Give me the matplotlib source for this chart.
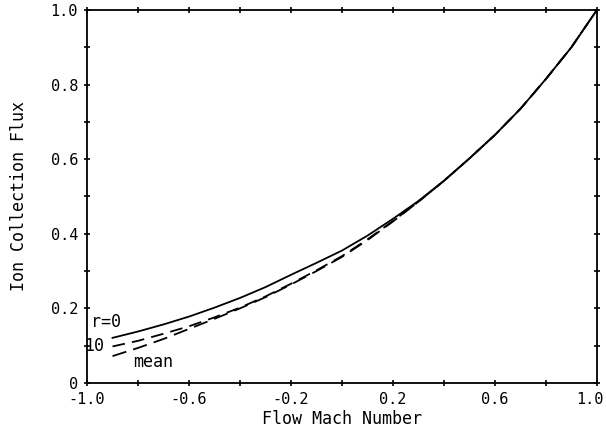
import matplotlib
matplotlib.use("Agg")
import matplotlib.pyplot as plt
from matplotlib.ticker import FixedLocator
from matplotlib.transforms import ScaledTranslation

mach = [-0.9, -0.8, -0.7, -0.6, -0.5, -0.4, -0.3, -0.2, -0.1, 0.0,
        0.1, 0.2, 0.3, 0.4, 0.5, 0.6, 0.7, 0.8, 0.9, 1.0]
flux_r0 = [0.121, 0.138, 0.157, 0.178, 0.202, 0.228, 0.257, 0.290, 0.322, 0.355,
           0.395, 0.440, 0.488, 0.542, 0.602, 0.665, 0.735, 0.815, 0.900, 1.000]
flux_r10 = [0.098, 0.113, 0.132, 0.152, 0.176, 0.202, 0.232, 0.266, 0.302, 0.340,
            0.385, 0.434, 0.486, 0.542, 0.602, 0.665, 0.735, 0.815, 0.900, 1.000]
flux_mean = [0.072, 0.094, 0.118, 0.145, 0.172, 0.200, 0.230, 0.264, 0.300, 0.338,
             0.383, 0.433, 0.486, 0.542, 0.602, 0.665, 0.735, 0.815, 0.900, 1.000]

xticks = [-1.0, -0.8, -0.6, -0.4, -0.2, 0.0, 0.2, 0.4, 0.6, 0.8, 1.0]
xticklabels = ["-1.0", "", "-0.6", "", "-0.2", "", "0.2", "", "0.6", "", "1.0"]
yticks = [0.0, 0.1, 0.2, 0.3, 0.4, 0.5, 0.6, 0.7, 0.8, 0.9, 1.0]
yticklabels = ["0", "", "0.2", "", "0.4", "", "0.6", "", "0.8", "", "1.0"]

plt.rcParams['font.family'] = ['DejaVu Sans Mono']

fig = plt.figure(figsize=(6.06, 4.33), dpi=100)
ax = fig.add_axes([0.1436, 0.1155, 0.8414, 0.8615])

ax.plot(mach, flux_r0, color='black', lw=1.3)
ax.plot(mach, flux_r10, color='black', lw=1.3, dashes=(7, 4))
ax.plot(mach, flux_mean, color='black', lw=1.3, dashes=(8, 4))

ax.set_xlim(-1.0, 1.0)
ax.set_ylim(0.0, 1.0)
ax.xaxis.set_major_locator(FixedLocator(xticks))
ax.set_xticklabels(xticklabels)
ax.yaxis.set_major_locator(FixedLocator(yticks))
ax.set_yticklabels(yticklabels)

ax.tick_params(direction='inout', length=5, width=1.2, top=True, right=True,
               labelsize=11, pad=4)
for s in ax.spines.values():
    s.set_linewidth(1.3)

# shift the last x tick label slightly left so it stays inside the figure
last = ax.get_xticklabels()[-1]
last.set_transform(last.get_transform() + ScaledTranslation(-7 / 100, 0, fig.dpi_scale_trans))

ax.set_xlabel("Flow Mach Number", fontsize=12, labelpad=2)
ax.set_ylabel("Ion Collection Flux", fontsize=12, labelpad=16)

ax.text(-0.985, 0.164, "r=0", fontsize=12, va='center', ha='left')
ax.text(-1.01, 0.100, "10", fontsize=12, va='center', ha='left')
ax.text(-0.82, 0.057, "mean", fontsize=12, va='center', ha='left')

fig.savefig("out.png", dpi=100)
